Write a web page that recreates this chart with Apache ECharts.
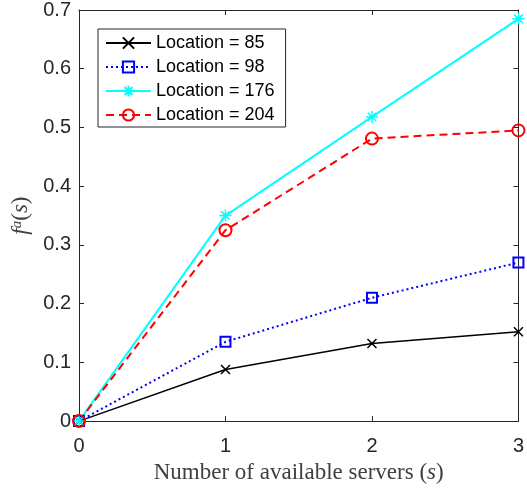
<!DOCTYPE html>
<html>
<head>
<meta charset="utf-8">
<script src="https://cdn.jsdelivr.net/npm/echarts@6/dist/echarts.min.js"></script>
<style>html,body{margin:0;padding:0;background:#fff}#c{width:527px;height:489px}</style>
</head>
<body>
<div id="c"></div>
<script>
var xValues = [0, 1, 2, 3];
var loc85 = [0, 0.088, 0.132, 0.152];
var loc98 = [0, 0.135, 0.210, 0.270];
var loc176 = [0, 0.350, 0.518, 0.685];
var loc204 = [0, 0.325, 0.481, 0.495];
var seriesNames = ['Location = 85', 'Location = 98', 'Location = 176', 'Location = 204'];

function pairs(vals) { return xValues.map(function (x, i) { return [x, vals[i]]; }); }

var axisColor = '#262626';
var tickFont = { fontFamily: 'Liberation Sans, Arial, sans-serif', fontSize: 20, color: axisColor };

var chart = echarts.init(document.getElementById('c'), null, { renderer: 'canvas' });
chart.setOption({
  animation: false,
  backgroundColor: '#fff',
  grid: { left: 79, top: 8, right: 6, bottom: 66, containLabel: false },
  legend: {
    orient: 'vertical',
    left: 98, top: 29,
    data: seriesNames,
    backgroundColor: '#fff',
    borderColor: '#262626',
    borderWidth: 1,
    padding: [5, 11, 3, 7],
    itemWidth: 45,
    itemHeight: 14,
    itemGap: 6,
    textStyle: { fontFamily: 'Liberation Sans, Arial, sans-serif', fontSize: 18, color: '#000', lineHeight: 18 }
  },
  xAxis: [{
    type: 'value', min: 0, max: 3, interval: 1,
    name: '{n|Number of available servers (}{i|s}{n|)}',
    nameLocation: 'middle', nameGap: 30,
    nameTextStyle: { rich: {
      n: { fontFamily: 'Liberation Serif, Times New Roman, serif', fontSize: 23, color: '#404040' },
      i: { fontFamily: 'Liberation Serif, Times New Roman, serif', fontSize: 23, fontStyle: 'italic', color: '#404040' }
    } },
    axisLine: { show: true, onZero: false, lineStyle: { color: axisColor, width: 1 } },
    axisTick: { show: true, inside: true, length: 5, lineStyle: { color: axisColor } },
    axisLabel: Object.assign({ margin: 15 }, tickFont),
    splitLine: { show: false }
  }, {
    type: 'value', min: 0, max: 3, interval: 1, position: 'top',
    axisLine: { show: true, onZero: false, lineStyle: { color: axisColor, width: 1 } },
    axisTick: { show: true, inside: true, length: 5, lineStyle: { color: axisColor } },
    axisLabel: { show: false }, splitLine: { show: false }
  }],
  yAxis: [{
    type: 'value', min: 0, max: 0.7, interval: 0.1,
    name: '{i|f}{s|a}{n|(}{i|s}{n|)}',
    nameLocation: 'middle', nameGap: 46, nameRotate: 90,
    nameTextStyle: { rich: {
      n: { fontFamily: 'Liberation Serif, Times New Roman, serif', fontSize: 23, color: '#404040' },
      i: { fontFamily: 'Liberation Serif, Times New Roman, serif', fontSize: 23, fontStyle: 'italic', color: '#404040' },
      s: { fontFamily: 'Liberation Serif, Times New Roman, serif', fontSize: 15, fontStyle: 'italic', color: '#404040', verticalAlign: 'top' }
    } },
    axisLine: { show: true, onZero: false, lineStyle: { color: axisColor, width: 1 } },
    axisTick: { show: true, inside: true, length: 5, lineStyle: { color: axisColor } },
    axisLabel: Object.assign({ margin: 8 }, tickFont),
    splitLine: { show: false }
  }, {
    type: 'value', min: 0, max: 0.7, interval: 0.1, position: 'right',
    axisLine: { show: true, onZero: false, lineStyle: { color: axisColor, width: 1 } },
    axisTick: { show: true, inside: true, length: 5, lineStyle: { color: axisColor } },
    axisLabel: { show: false }, splitLine: { show: false }
  }],
  series: [{
    name: seriesNames[0], type: 'line', data: pairs(loc85),
    symbol: 'path://M0,0L10,10M10,0L0,10', symbolSize: 9,
    itemStyle: { color: '#000', borderColor: '#000', borderWidth: 1.5 },
    lineStyle: { color: '#000', width: 1.5, type: 'solid' }
  }, {
    name: seriesNames[1], type: 'line', data: pairs(loc98),
    symbol: 'rect', symbolSize: 10,
    itemStyle: { color: 'none', borderColor: '#0000ff', borderWidth: 2 },
    lineStyle: { color: '#0000ff', width: 2, type: [2, 3] }
  }, {
    name: seriesNames[2], type: 'line', data: pairs(loc176),
    symbol: 'path://M5,0L5,10M0,5L10,5M1.5,1.5L8.5,8.5M8.5,1.5L1.5,8.5', symbolSize: 12,
    itemStyle: { color: '#00ffff', borderColor: '#00ffff', borderWidth: 1.5 },
    lineStyle: { color: '#00ffff', width: 2, type: 'solid' }
  }, {
    name: seriesNames[3], type: 'line', data: pairs(loc204),
    symbol: 'circle', symbolSize: 12,
    itemStyle: { color: 'none', borderColor: '#ff0000', borderWidth: 2 },
    lineStyle: { color: '#ff0000', width: 2, type: [8, 5] }
  }]
});
</script>
</body>
</html>
